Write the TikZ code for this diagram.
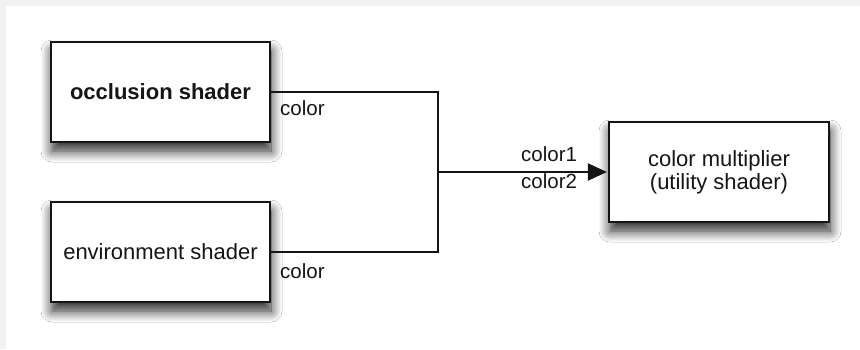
\documentclass[tikz,border=0pt]{standalone}
\usepackage{fontspec}
\setmainfont{Liberation Sans}
\usetikzlibrary{shadows.blur,arrows.meta}
\definecolor{framegray}{HTML}{F2F2F2}
\definecolor{ink}{HTML}{151515}
\tikzset{
  shaderbox/.style={draw=ink, line width=2.2pt, fill=white, minimum width=219pt, minimum height=100pt, inner sep=0pt,
    text=ink, font=\fontsize{22}{24}\selectfont, align=center,
    blur shadow={shadow xshift=1pt, shadow yshift=-9pt, shadow blur radius=11pt, shadow blur steps=12, shadow opacity=85}},
  portlabel/.style={anchor=base west, inner sep=0pt, text=ink, font=\fontsize{20.5}{23}\selectfont},
  wire/.style={draw=ink, line width=2pt}
}
\begin{document}
\begin{tikzpicture}[x=1pt,y=-1pt]
\useasboundingbox (0,0) rectangle (860,349);
\fill[framegray] (0,0) rectangle (860,349);
\fill[white] (6,6) rectangle (860,349);
\node[shaderbox, font=\fontsize{22}{24}\selectfont\bfseries] (occ) at (160.5,92) {occlusion shader};
\node[shaderbox] (env) at (160.5,252) {environment shader};
\node[shaderbox, minimum width=220pt] (mult) at (719,172) {color multiplier\\[-1pt](utility shader)};
\coordinate (j) at (438,172);
\draw[wire] (occ.east) -| (j) |- (env.east);
\draw[wire, -{Triangle[length=19pt,width=17pt]}, shorten >=1pt] (j) -- (mult.west);
\node[portlabel] (l1) at (280,115) {color};
\node[portlabel] (l2) at (280,278) {color};
\node[portlabel] (l3) at (521,161) {color1};
\node[portlabel] (l4) at (521,188) {color2};
\end{tikzpicture}
\end{document}
